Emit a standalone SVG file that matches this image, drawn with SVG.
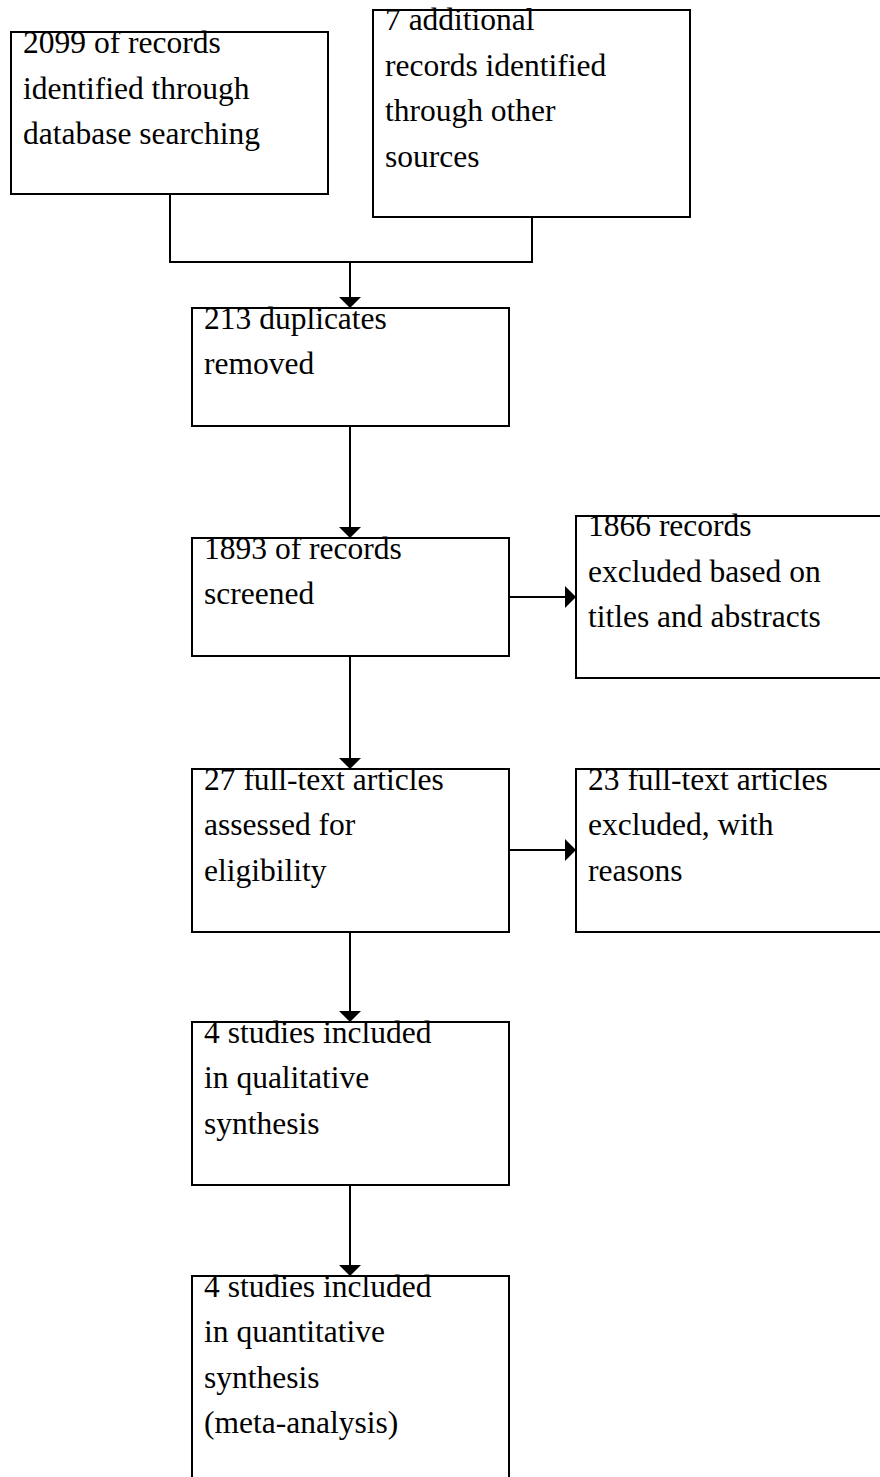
<svg xmlns="http://www.w3.org/2000/svg" width="880" height="1477" viewBox="0 0 880 1477">
<style>
.box{fill:#ffffff;stroke:#000000;stroke-width:2}
.t{font-family:"Liberation Serif","Times New Roman",serif;font-size:31.5px;fill:#000000}
.c{fill:none;stroke:#000000;stroke-width:2}
</style>
<defs>
<marker id="ah" markerUnits="userSpaceOnUse" viewBox="0 0 11 22" markerWidth="11" markerHeight="22" refX="11" refY="11" orient="auto">
<path d="M0,0 L11,11 L0,22 Z" fill="#000000"/>
</marker>
</defs>
<rect width="880" height="1477" fill="#ffffff"/>
<g id="connectors">
<path class="c" d="M170,194 V262 H532 V217"/>
<path class="c" d="M350,262 V308" marker-end="url(#ah)"/>
<path class="c" d="M350,426 V538" marker-end="url(#ah)"/>
<path class="c" d="M350,656 V769" marker-end="url(#ah)"/>
<path class="c" d="M350,932 V1022" marker-end="url(#ah)"/>
<path class="c" d="M350,1185 V1276" marker-end="url(#ah)"/>
<path class="c" d="M509,597 H576" marker-end="url(#ah)"/>
<path class="c" d="M509,850 H576" marker-end="url(#ah)"/>
</g>
<g id="n1">
<rect class="box" x="11" y="32" width="317" height="162"/>
<text class="t" x="23" y="53">2099 of records</text>
<text class="t" x="23" y="98.5">identified through</text>
<text class="t" x="23" y="144">database searching</text>
</g>
<g id="n2">
<rect class="box" x="373" y="10" width="317" height="207"/>
<text class="t" x="385" y="30">7 additional</text>
<text class="t" x="385" y="75.5">records identified</text>
<text class="t" x="385" y="121">through other</text>
<text class="t" x="385" y="166.5">sources</text>
</g>
<g id="n3">
<rect class="box" x="192" y="308" width="317" height="118"/>
<text class="t" x="204" y="328.5">213 duplicates</text>
<text class="t" x="204" y="374">removed</text>
</g>
<g id="n4">
<rect class="box" x="192" y="538" width="317" height="118"/>
<text class="t" x="204" y="558.5">1893 of records</text>
<text class="t" x="204" y="604">screened</text>
</g>
<g id="n5">
<rect class="box" x="576" y="516" width="317" height="162"/>
<text class="t" x="588" y="536">1866 records</text>
<text class="t" x="588" y="581.5">excluded based on</text>
<text class="t" x="588" y="627">titles and abstracts</text>
</g>
<g id="n6">
<rect class="box" x="192" y="769" width="317" height="163"/>
<text class="t" x="204" y="789.5">27 full-text articles</text>
<text class="t" x="204" y="835">assessed for</text>
<text class="t" x="204" y="880.5">eligibility</text>
</g>
<g id="n7">
<rect class="box" x="576" y="769" width="317" height="163"/>
<text class="t" x="588" y="789.5">23 full-text articles</text>
<text class="t" x="588" y="835">excluded, with</text>
<text class="t" x="588" y="880.5">reasons</text>
</g>
<g id="n8">
<rect class="box" x="192" y="1022" width="317" height="163"/>
<text class="t" x="204" y="1042.5">4 studies included</text>
<text class="t" x="204" y="1088">in qualitative</text>
<text class="t" x="204" y="1133.5">synthesis</text>
</g>
<g id="n9">
<rect class="box" x="192" y="1276" width="317" height="230"/>
<text class="t" x="204" y="1296.5">4 studies included</text>
<text class="t" x="204" y="1342">in quantitative</text>
<text class="t" x="204" y="1387.5">synthesis</text>
<text class="t" x="204" y="1433">(meta-analysis)</text>
</g>
</svg>
